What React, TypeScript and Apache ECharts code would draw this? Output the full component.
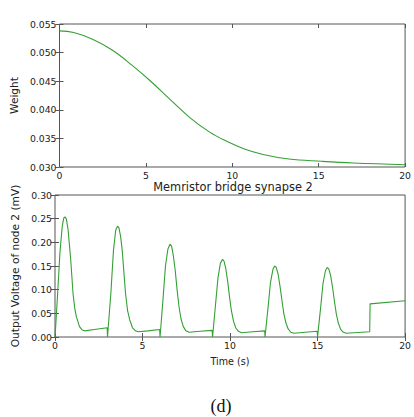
import React, { useEffect, useRef } from "react";
import * as echarts from "echarts";

// Top panel: weight vs time
const weightTime = [0, 0.82, 1.94, 3.07, 4.19, 5.31, 6.44, 7.56, 8.69, 9.53, 10.66, 11.78, 13.28, 15.16, 17.0, 20];
const weightValue = [0.0538, 0.0535, 0.0523, 0.0504, 0.0478, 0.0449, 0.0417, 0.0386, 0.0361, 0.0347, 0.0332, 0.0322, 0.0314, 0.031, 0.0307, 0.0304];

// Bottom panel: output voltage of node 2 (mV), [time, value]
const pulse1 = [[0, 0], [0.04, 0.022], [0.15, 0.092], [0.28, 0.177], [0.41, 0.233], [0.5, 0.251], [0.57, 0.254], [0.65, 0.249], [0.75, 0.226], [0.9, 0.162], [1.03, 0.092], [1.13, 0.06], [1.22, 0.043], [1.4, 0.022], [1.55, 0.015], [1.7, 0.013], [2.25, 0.016], [2.98, 0.0196]];
const pulse2 = [[3.0, 0], [3.04, 0.02], [3.19, 0.092], [3.34, 0.183], [3.47, 0.226], [3.57, 0.234], [3.65, 0.231], [3.75, 0.212], [3.84, 0.183], [3.95, 0.13], [4.03, 0.092], [4.15, 0.055], [4.27, 0.036], [4.42, 0.02], [4.6, 0.013], [4.75, 0.011], [5.3, 0.013], [5.98, 0.016]];
const pulse3 = [[6.0, 0], [6.04, 0.018], [6.17, 0.08], [6.31, 0.15], [6.45, 0.186], [6.57, 0.196], [6.66, 0.192], [6.76, 0.172], [6.87, 0.14], [6.98, 0.098], [7.08, 0.065], [7.2, 0.038], [7.33, 0.022], [7.48, 0.013], [7.65, 0.01], [8.3, 0.012], [8.98, 0.014]];
const pulse4 = [[9.0, 0], [9.04, 0.016], [9.17, 0.068], [9.31, 0.125], [9.45, 0.156], [9.57, 0.164], [9.66, 0.16], [9.76, 0.144], [9.87, 0.116], [9.98, 0.082], [10.08, 0.055], [10.2, 0.033], [10.33, 0.019], [10.48, 0.012], [10.65, 0.009], [11.3, 0.011], [11.98, 0.013]];
const pulse5 = [[12.0, 0], [12.04, 0.015], [12.17, 0.062], [12.31, 0.115], [12.45, 0.143], [12.55, 0.15], [12.64, 0.147], [12.75, 0.132], [12.86, 0.106], [12.97, 0.076], [13.07, 0.05], [13.19, 0.03], [13.32, 0.017], [13.47, 0.01], [13.65, 0.008], [14.3, 0.01], [14.98, 0.012]];
const pulse6 = [[15.0, 0], [15.04, 0.015], [15.17, 0.06], [15.31, 0.113], [15.45, 0.14], [15.55, 0.147], [15.64, 0.144], [15.75, 0.129], [15.86, 0.104], [15.97, 0.074], [16.07, 0.049], [16.19, 0.029], [16.32, 0.016], [16.47, 0.01], [16.65, 0.008], [17.3, 0.0095], [17.98, 0.011]];
const tail = [[18.0, 0.07], [20, 0.0765]];

const xTicks = [0, 5, 10, 15, 20];
const weightTicks = [0.03, 0.035, 0.04, 0.045, 0.05, 0.055];
const voltageTicks = [0, 0.05, 0.1, 0.15, 0.2, 0.25, 0.3];

const LINE = "#34a034";
const FRAME = "#555";
const TEXT = "#222";
const FONT = "DejaVu Sans";

export default function App() {
  const ref = useRef<HTMLDivElement>(null);
  useEffect(() => {
    if (!ref.current) return;
    const chart = echarts.init(ref.current, null, { renderer: "svg" });
    const weightData = weightTime.map((t, i) => [t, weightValue[i]]);
    const voltageData = [...pulse1, ...pulse2, ...pulse3, ...pulse4, ...pulse5, ...pulse6, ...tail];

    const tickStyle = { show: true, inside: true, length: 4, lineStyle: { color: FRAME } };
    const lbl = { color: TEXT, fontFamily: FONT, fontSize: 9.3 };
    const mkX = (grid: number, top: boolean, extra: any = {}) => ({
      type: "value", gridIndex: grid, position: top ? "top" : "bottom",
      min: xTicks[0], max: xTicks[xTicks.length - 1], interval: 5,
      axisLine: { show: false }, axisTick: tickStyle, splitLine: { show: false },
      axisLabel: top ? { show: false } : { ...lbl, margin: 4 },
      ...extra,
    });
    const mkY = (grid: number, right: boolean, ticks: number[], digits: number, extra: any = {}) => ({
      type: "value", gridIndex: grid, position: right ? "right" : "left",
      min: ticks[0], max: ticks[ticks.length - 1], interval: ticks[1] - ticks[0],
      axisLine: { show: false }, axisTick: tickStyle, splitLine: { show: false },
      axisLabel: right ? { show: false } : { ...lbl, margin: 3, formatter: (v: number) => v.toFixed(digits) },
      ...extra,
    });
    const nameStyle = { color: TEXT, fontFamily: FONT, fontSize: 10.6 };

    chart.setOption({
      animation: false,
      backgroundColor: "#fff",
      grid: [
        { left: 55, top: 24, width: 356, height: 143, show: true, borderColor: FRAME, borderWidth: 1 },
        { left: 55, top: 195, width: 356, height: 142, show: true, borderColor: FRAME, borderWidth: 1 },
      ],
      xAxis: [
        mkX(0, false),
        mkX(0, true),
        mkX(1, false, { name: "Time (s)", nameLocation: "middle", nameGap: 19, nameTextStyle: { ...nameStyle, fontSize: 9.6 } }),
        mkX(1, true),
      ],
      yAxis: [
        mkY(0, false, weightTicks, 3, { name: "Weight", nameLocation: "middle", nameGap: 34, nameTextStyle: nameStyle }),
        mkY(0, true, weightTicks, 3),
        mkY(1, false, voltageTicks, 2, { name: "Output Voltage of node 2 (mV)", nameLocation: "middle", nameGap: 27, nameTextStyle: nameStyle }),
        mkY(1, true, voltageTicks, 2),
      ],
      graphic: [
        { type: "text", x: 233, y: 187, style: { text: "Memristor bridge synapse 2", fill: TEXT, font: `11.4px "${FONT}"`, textAlign: "center", textVerticalAlign: "middle" } },
        { type: "text", x: 221, y: 406, style: { text: "(d)", fill: "#111", font: '18px "Liberation Serif"', textAlign: "center", textVerticalAlign: "middle" } },
      ],
      series: [
        { type: "line", xAxisIndex: 0, yAxisIndex: 0, data: weightData, smooth: 0.4, showSymbol: false, lineStyle: { color: LINE, width: 1.1 } },
        { type: "line", xAxisIndex: 2, yAxisIndex: 2, data: voltageData, showSymbol: false, lineStyle: { color: LINE, width: 1.1 } },
      ],
    });
    return () => chart.dispose();
  }, []);
  return <div ref={ref} style={{ position: "fixed", left: 0, top: 0, width: 414, height: 417, background: "#fff" }} />;
}
